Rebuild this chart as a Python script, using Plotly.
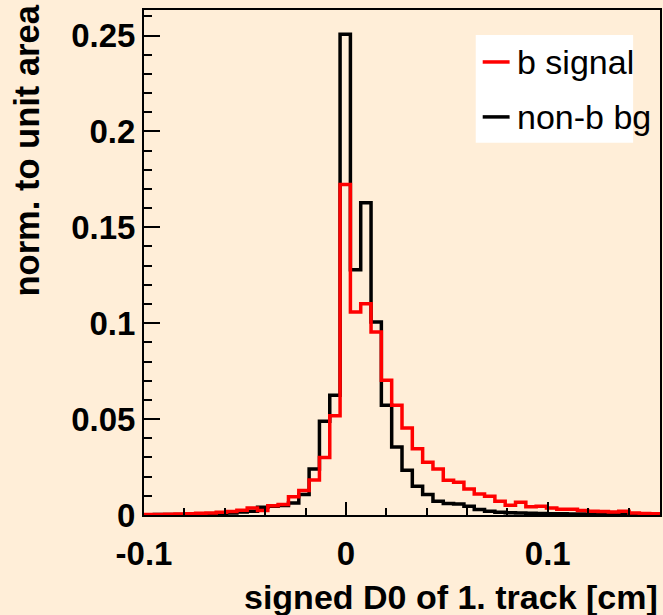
import numpy as np
import plotly.graph_objects as go

# histogram binning (50 bins)
x_min = -0.1
x_max = 0.1556
n_bins = 50

# normalised bin contents
b_signal = [0.0002, 0.0003, 0.0004, 0.0005, 0.0007, 0.0009, 0.0011, 0.0014, 0.0018, 0.0025,
            0.0037, 0.0023, 0.0048, 0.0055, 0.0095, 0.0128, 0.0183, 0.0300, 0.0517, 0.1723,
            0.1058, 0.1102, 0.0954, 0.0702, 0.0572, 0.0454, 0.0345, 0.0275, 0.0240, 0.0181,
            0.0171, 0.0136, 0.0110, 0.0098, 0.0072, 0.0051, 0.0067, 0.0043, 0.0046, 0.0037,
            0.0030, 0.0030, 0.0023, 0.0020, 0.0018, 0.0016, 0.0019, 0.0010, 0.0008, 0.0006]
nonb_bg = [0.0001, 0.0002, 0.0002, 0.0003, 0.0004, 0.0005, 0.0006, 0.0008, 0.0010, 0.0015,
           0.0020, 0.0040, 0.0045, 0.0050, 0.0063, 0.0107, 0.0240, 0.0489, 0.0624, 0.2506,
           0.1279, 0.1628, 0.1006, 0.0572, 0.0355, 0.0233, 0.0150, 0.0107, 0.0072, 0.0060,
           0.0058, 0.0046, 0.0029, 0.0020, 0.0014, 0.0012, 0.0010, 0.0009, 0.0008, 0.0007,
           0.0006, 0.0005, 0.0005, 0.0004, 0.0004, 0.0003, 0.0003, 0.0002, 0.0002, 0.0002]

series_names = ["b signal", "non-b bg"]
series_colors = ["#FF0000", "#000000"]

x_ticks = [-0.1, 0, 0.1]
x_tick_labels = ["-0.1", "0", "0.1"]
y_ticks = [0, 0.05, 0.1, 0.15, 0.2, 0.25]
y_tick_labels = ["0", "0.05", "0.1", "0.15", "0.2", "0.25"]

edges = np.linspace(x_min, x_max, n_bins + 1)

def step(vals):
    return list(edges), list(vals) + [vals[-1]]

BG = "#FFEED8"
FONT = "Liberation Sans, Arial, sans-serif"
LW = 3.5

fig = go.Figure()
xs, ys = step(nonb_bg)
fig.add_trace(go.Scatter(x=xs, y=ys, mode="lines", line=dict(color=series_colors[1], width=LW, shape="hv"),
                         name=series_names[1], showlegend=False))
xs, ys = step(b_signal)
fig.add_trace(go.Scatter(x=xs, y=ys, mode="lines", line=dict(color=series_colors[0], width=LW, shape="hv"),
                         name=series_names[0], showlegend=False))

# legend box (ROOT TLegend style)
shapes = [dict(type="rect", xref="paper", yref="paper", x0=0.6429, x1=0.9479, y0=0.7369, y1=0.9505,
               fillcolor="white", line=dict(width=0), layer="below")]
annotations = []
leg_rows = [0.8971, 0.7883]
for name, color, yy in zip(series_names, series_colors, leg_rows):
    shapes.append(dict(type="line", xref="paper", yref="paper", x0=0.6564, x1=0.7085, y0=yy, y1=yy,
                       line=dict(color=color, width=LW)))
    annotations.append(dict(text=name, xref="paper", yref="paper", x=0.7181, y=yy,
                            xanchor="left", yanchor="middle", showarrow=False,
                            font=dict(size=34, family=FONT, color="black")))

annotations += [
    dict(text="<b>signed D0 of 1. track [cm]</b>", xref="paper", yref="paper",
         x=1.0, y=-0.1632, xanchor="right", yanchor="middle", showarrow=False,
         font=dict(size=34, family=FONT, color="black")),
    dict(text="<b>norm. to unit area</b>", xref="paper", yref="paper", textangle=-90,
         x=-0.2259, y=1.0158, xanchor="center", yanchor="top", showarrow=False,
         font=dict(size=34.5, family=FONT, color="black")),
]

fig.update_layout(
    width=663, height=615,
    margin=dict(l=144, r=1, t=10, b=99.5),
    paper_bgcolor=BG, plot_bgcolor=BG,
    font=dict(family=FONT, color="black"),
    showlegend=False,
    shapes=shapes,
    annotations=annotations,
    xaxis=dict(range=[x_min, x_max], tickmode="array", tickvals=x_ticks, ticktext=x_tick_labels,
               ticks="inside", ticklen=13, tickwidth=2, tickcolor="black",
               minor=dict(dtick=0.02, tick0=0, ticks="inside", ticklen=7, tickwidth=2, tickcolor="black"),
               showgrid=False, zeroline=False, showline=True, linecolor="black", linewidth=2,
               mirror=True, tickfont=dict(size=33, family=FONT, color="black", weight="bold"),
               ticklabelstandoff=8),
    yaxis=dict(range=[0, 0.2633], tickmode="array", tickvals=y_ticks, ticktext=y_tick_labels,
               ticks="inside", ticklen=16, tickwidth=2, tickcolor="black",
               minor=dict(dtick=0.01, tick0=0, ticks="inside", ticklen=8, tickwidth=2, tickcolor="black"),
               showgrid=False, zeroline=False, showline=True, linecolor="black", linewidth=2,
               mirror=True, tickfont=dict(size=33, family=FONT, color="black", weight="bold"),
               ticklabelstandoff=0),
)

fig.write_html("out.html", config={"displayModeBar": False},
               post_script="document.body.style.margin='0';document.body.style.overflow='hidden';")
